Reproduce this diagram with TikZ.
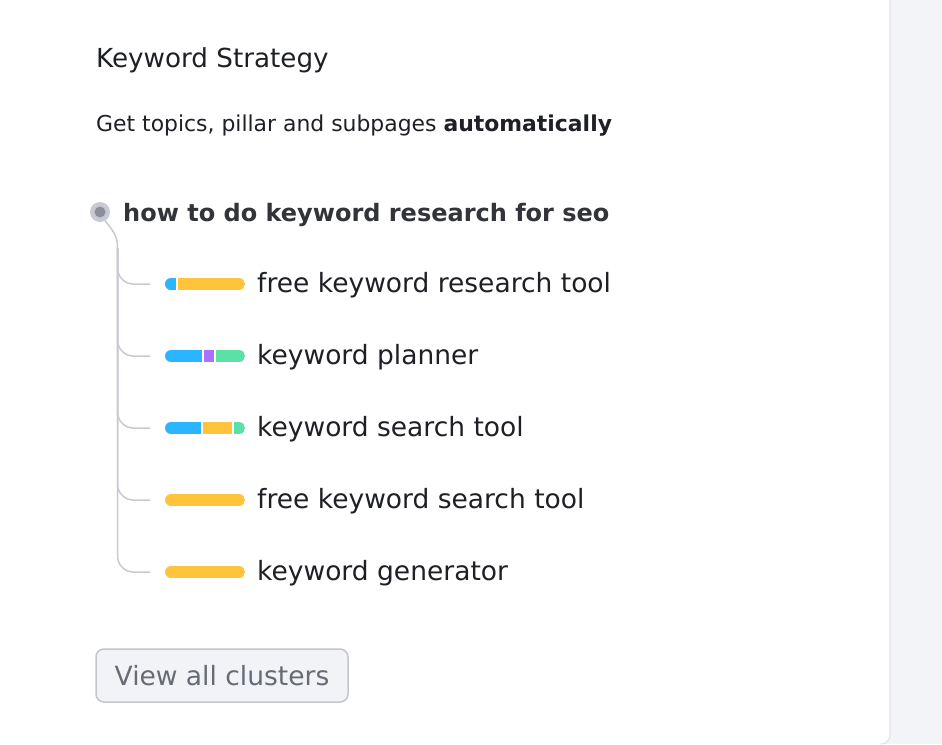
\documentclass[tikz,border=0pt]{standalone}
\usepackage{fontspec}
\setmainfont{DejaVu Sans}
\definecolor{pagebg}{HTML}{F3F4F8}
\definecolor{cardline}{HTML}{E2E3E8}
\definecolor{txt}{HTML}{1E2026}
\definecolor{roottxt}{HTML}{33343A}
\definecolor{conncol}{HTML}{C8CAD2}
\definecolor{dotout}{HTML}{C8CAD2}
\definecolor{dotin}{HTML}{8C8F9B}
\definecolor{kblue}{HTML}{2BB4FF}
\definecolor{kyellow}{HTML}{FFC43C}
\definecolor{kpurple}{HTML}{A970FF}
\definecolor{kgreen}{HTML}{5BE0A8}
\definecolor{btnfill}{HTML}{F2F3F6}
\definecolor{btnline}{HTML}{C4C6CE}
\definecolor{btntxt}{HTML}{686B76}
\tikzset{
  lbl/.style={anchor=base west, inner sep=0pt, text=txt},
  itemtxt/.style={lbl, font=\fontsize{26.5}{30}\selectfont},
  conn/.style={draw=conncol, line width=1.5pt},
  gap/.style={draw=white, line width=1.6pt},
}
\newcommand{\kbar}[2]{%
  \begin{scope}
    \clip[rounded corners=6pt] (165,#1-6) rectangle (245,#1+6);
    #2
  \end{scope}}
\begin{document}
\begin{tikzpicture}[x=1pt,y=-1pt]
\useasboundingbox (0,0) rectangle (942,744);
\fill[pagebg] (0,0) rectangle (942,744);
\fill[white, rounded corners=9pt] (-20,-20) rectangle (890,744);
\draw[cardline, line width=1.2pt] (890,-20) -- (890,735) arc[start angle=0, end angle=90, radius=9];

\node[lbl, font=\fontsize{26.2}{30}\selectfont] (title) at (96,67) {Keyword Strategy};
\node[lbl, font=\fontsize{21.9}{26}\selectfont] (sub) at (96,131) {Get topics, pillar and subpages \textbf{automatically}};

% root
\node[circle, fill=dotout, minimum size=20pt, inner sep=0pt] (dot) at (100,212) {};
\node[circle, fill=dotin, minimum size=11pt, inner sep=0pt] at (dot) {};
\node[lbl, text=roottxt, font=\bfseries\fontsize{24}{28}\selectfont] (root) at (123,221) {how to do keyword research for seo};

% items
\node[itemtxt] (i1) at (257,292) {free keyword research tool};
\node[itemtxt] (i2) at (257,364) {keyword planner};
\node[itemtxt] (i3) at (257,436) {keyword search tool};
\node[itemtxt] (i4) at (257,508) {free keyword search tool};
\node[itemtxt] (i5) at (257,580) {keyword generator};

% bars
\kbar{284}{\fill[kyellow] (165,278) rectangle (245,290); \fill[kblue] (165,278) rectangle (177,290); \draw[gap] (177,278) -- (177,290);}
\kbar{356}{\fill[kblue] (165,350) rectangle (203,362); \fill[kpurple] (203,350) rectangle (215,362); \fill[kgreen] (215,350) rectangle (245,362); \draw[gap] (203,350) -- (203,362); \draw[gap] (215,350) -- (215,362);}
\kbar{428}{\fill[kblue] (165,422) rectangle (202,434); \fill[kyellow] (202,422) rectangle (233,434); \fill[kgreen] (233,422) rectangle (245,434); \draw[gap] (202,422) -- (202,434); \draw[gap] (233,422) -- (233,434);}
\kbar{500}{\fill[kyellow] (165,494) rectangle (245,506);}
\kbar{572}{\fill[kyellow] (165,566) rectangle (245,578);}

\coordinate (c1) at (150,284);
\coordinate (c2) at (150,356);
\coordinate (c3) at (150,428);
\coordinate (c4) at (150,500);
\coordinate (c5) at (150,572);
\coordinate (trunk) at (117.5,248);

% connectors
\draw[conn] (dot.-60) .. controls (114,232) and (117.5,236) .. (trunk);
\foreach \c in {c1,c2,c3,c4,c5}{
  \draw[conn, rounded corners=16pt] (trunk) |- (\c);
}

% button
\node[draw=btnline, fill=btnfill, line width=1.5pt, rounded corners=8pt,
      minimum width=252pt, minimum height=53pt, inner sep=0pt,
      text=btntxt, font=\fontsize{26.5}{30}\selectfont] (btn) at (222,675.5) {View all clusters};
\end{tikzpicture}
\end{document}
